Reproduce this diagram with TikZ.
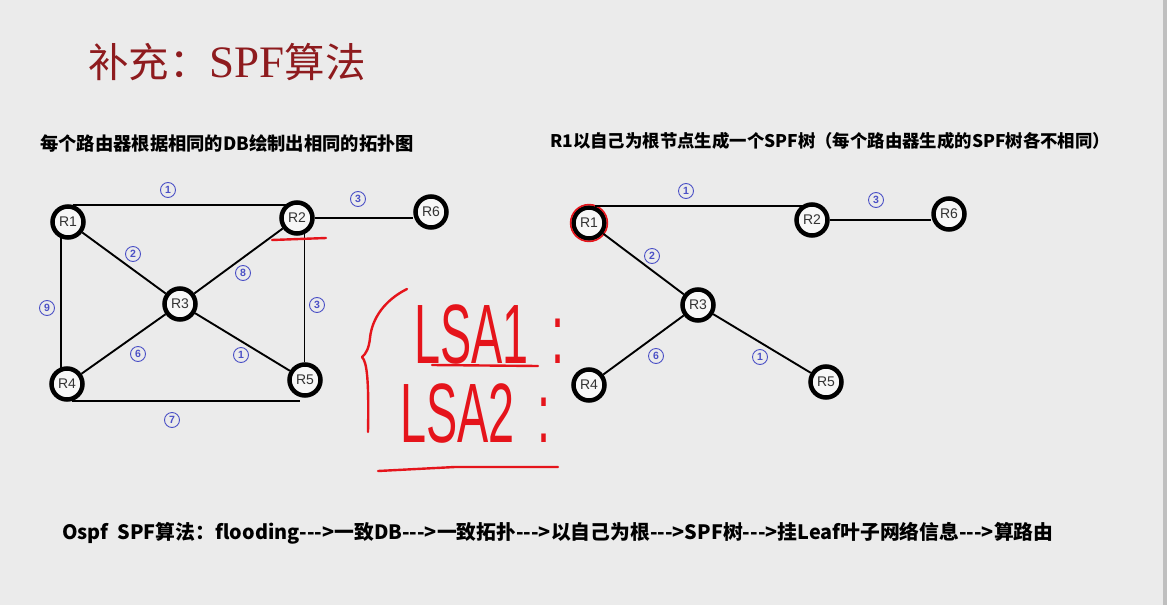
\documentclass[tikz,border=0pt]{standalone}
\usepackage{fontspec}
\setmainfont{Liberation Serif}
\newfontfamily\cjk{Noto Sans CJK SC}
\newfontfamily\handfont{Liberation Sans}
\definecolor{bg}{HTML}{EBEBEB}
\definecolor{titlered}{HTML}{8E1B1E}
\definecolor{numblue}{HTML}{4B50C6}
\definecolor{inkred}{HTML}{E5141B}
\definecolor{rtext}{HTML}{333333}
\tikzset{
  router/.style={circle,draw=black,line width=4.5pt,fill=white!60!bg,minimum size=31pt,inner sep=0pt,
    text=rtext,font=\handfont\fontsize{14}{14}\selectfont},
  link/.style={line width=1.9pt,black},
  cost/.style={circle,draw=numblue,line width=0.9pt,text=numblue,inner sep=0pt,minimum size=15pt,
    font=\handfont\bfseries\fontsize{10.5}{10.5}\selectfont},
  ink/.style={inkred,line width=2.4pt,line cap=round,line join=round},
  hand/.style={anchor=south west,inner sep=0pt,text=inkred,xscale=0.6,yscale=1.08,text height=56pt,text depth=0pt,
    font=\handfont\fontsize{78}{78}\selectfont},
  heading/.style={anchor=west,inner sep=0pt,font=\cjk\bfseries\fontsize{17}{17}\selectfont}
}
\begin{document}
\begin{tikzpicture}[x=1pt,y=-1pt]
  \fill[bg] (0,0) rectangle (1167,605);
  \fill[black!25] (1163,0) rectangle (1167,605);
  \useasboundingbox (0,0) rectangle (1167,605);

  % title and headings
  \node[anchor=west,inner sep=0pt,text=titlered] (title) at (88,62)
    {{\cjk\fontsize{40.5}{42}\selectfont 补充：}{\fontsize{45}{45}\selectfont SPF}{\cjk\fontsize{40.5}{42}\selectfont 算法}};
  \node[heading,font=\cjk\bfseries\fontsize{18.3}{18}\selectfont] (lefthead) at (40,143)
    {每个路由器根据相同的DB绘制出相同的拓扑图};
  \node[heading,font=\cjk\bfseries\fontsize{17.4}{18}\selectfont] (righthead) at (550,141)
    {R1以自己为根节点生成一个SPF树（每个路由器生成的SPF树各不相同）};

  % topology
  \node[router] (R1) at (68,222) {R1};
  \node[router] (R2) at (297,218) {R2};
  \node[router] (R6) at (431,212) {R6};
  \node[router] (R3) at (180,304) {R3};
  \node[router] (R4) at (67,384) {R4};
  \node[router] (R5) at (305,380) {R5};
  \draw[link] (R1.75) -- (R1.75 -| R2.125);
  \draw[link] (R2.east) -- (R2.east -| R6.west);
  \draw[link] (R1) -- (R3);
  \draw[link] (R3) -- (R2);
  \draw[link] (R3) -- (R4);
  \draw[link] (R3) -- (R5);
  \draw[link] (R1.248) -- (R1.248 |- R4.112);
  \draw[link] (R2.295) -- (R2.295 |- R5.95);
  \draw[link] (R4.285) -- (R4.285 -| R5.255);
  \node[cost] (c12) at (168,190) {1};
  \node[cost] (c26) at (358,199) {3};
  \node[cost] (c13) at (133,254) {2};
  \node[cost] (c23) at (243,273) {8};
  \node[cost] (c14) at (47,308) {9};
  \node[cost] (c25) at (317,305) {3};
  \node[cost] (c34) at (138,354) {6};
  \node[cost] (c35) at (241,355) {1};
  \node[cost] (c45) at (172,420) {7};

  % spf tree of R1
  \node[router] (T1) at (589,223) {R1};
  \draw[inkred,line width=1.6pt] (T1) circle (18.4pt);
  \node[router] (T2) at (812,220) {R2};
  \node[router] (T6) at (949,214) {R6};
  \node[router] (T3) at (698,305) {R3};
  \node[router] (T4) at (589,385) {R4};
  \node[router] (T5) at (826,382) {R5};
  \draw[link] (T1.70) -- (T1.70 -| T2.120);
  \draw[link] (T2.east) -- (T2.east -| T6.west);
  \draw[link] (T1) -- (T3);
  \draw[link] (T3) -- (T4);
  \draw[link] (T3) -- (T5);
  \node[cost] (d12) at (686,191) {1};
  \node[cost] (d26) at (876,200) {3};
  \node[cost] (d13) at (652,256) {2};
  \node[cost] (d34) at (656,356) {6};
  \node[cost] (d35) at (760,357) {1};

  % hand notes
  \draw[ink] (272,240) -- (326,238);
  \draw[ink] (407,289) .. controls (385,300) and (372,318) .. (370,338)
    .. controls (369,348) and (366,354) .. (362,357)
    .. controls (367,362) and (369,380) .. (368,432);
  \node[hand] (lsa1) at (414,364) {LSA1\hspace{38pt}:};
  \node[hand] (lsa2) at (400,443) {LSA2\hspace{38pt}:};
  \draw[ink] (432,365) -- (538,366);
  \draw[ink] (378,471) -- (455,467) -- (558,467);

  % summary
  \node[heading,font=\cjk\bfseries\fontsize{19.8}{20}\selectfont] (summary) at (62,533)
    {Ospf\ \ SPF算法：flooding--->一致DB--->一致拓扑--->以自己为根--->SPF树--->挂Leaf叶子网络信息--->算路由};
\end{tikzpicture}
\end{document}
